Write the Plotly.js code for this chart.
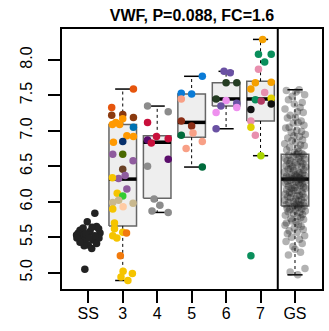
<!DOCTYPE html>
<html>
<head>
<meta charset="utf-8">
<script src="https://cdn.plot.ly/plotly-3.0.1.min.js"></script>
<style>html,body{margin:0;padding:0;background:#fff;}#chart{width:329px;height:331px;}</style>
</head>
<body>
<div id="chart"></div>
<script>
// ---------- data ----------
const categories = ['SS', '3', '4', '5', '6', '7', 'GS'];
const titleText = 'VWF, P=0.088, FC=1.6';
const yTickVals = [5.0, 5.5, 6.0, 6.5, 7.0, 7.5, 8.0];

// box statistics for groups with a box
const boxCats   = ['3', '4', '5', '6', '7', 'GS'];
const boxLow    = [4.89, 5.85, 6.49, 7.03, 6.65, 4.97];
const boxQ1     = [5.66, 6.05, 6.91, 7.35, 7.14, 5.94];
const boxMedian = [6.32, 6.84, 7.12, 7.45, 7.45, 6.32];
const boxQ3     = [7.09, 6.93, 7.52, 7.68, 7.70, 6.67];
const boxHigh   = [7.59, 7.35, 7.77, 7.84, 8.29, 7.58];

// SS points
const ssVals = [5.84,5.72,5.60,5.56,5.63,5.65,5.56,5.58,5.51,5.46,5.46,5.39,5.34,5.53,5.41,5.55,5.49,5.64,5.49,5.38,5.52,5.49,5.43,5.62,5.05];
const ssJit  = [0.19,-0.03,-0.24,-0.29,-0.15,0.24,0.34,0.05,-0.19,-0.10,0.15,0.00,0.10,-0.34,0.24,-0.07,0.31,0.11,-0.33,-0.12,0.19,0.02,-0.24,0.30,-0.10];

// group 3
const g3Vals = [7.59,7.33,7.22,7.23,7.19,7.17,7.12,7.09,7.09,7.05,6.93,6.92,6.84,6.85,6.67,6.67,6.58,6.46,6.37,6.33,6.34,6.18,6.12,6.08,6.02,5.99,5.98,5.93,5.90,5.70,5.62,5.52,5.49,5.57,5.56,5.24,5.02,4.99,4.94,4.89];
const g3Jit  = [0.31,-0.32,-0.32,0.00,0.31,0.00,-0.20,-0.09,-0.30,0.31,0.12,0.31,-0.27,0.00,-0.29,0.00,0.30,0.00,0.07,-0.12,-0.30,0.12,-0.16,0.00,-0.12,-0.29,0.30,0.01,-0.29,-0.24,-0.24,-0.29,-0.17,0.00,0.11,-0.07,0.01,0.28,-0.05,0.15];
const g3Cols = ['#E6550D','#E6550D','#8B3A0F','#8B3A0F','#8B3A0F','#FF9900','#FF9900','#FF9900','#FF9900','#0072B2','#FF9900','#FF9900','#FF9900','#08306B','#8F5C9E','#4A6A00','#8F5C9E','#6B4226','#8F5C9E','#8F5C9E','#F5C400','#8F5C9E','#F5C400','#33CC33','#C9B88E','#C9B88E','#C9B88E','#FFCBA4','#F5C400','#F5C400','#F5C400','#F5C400','#F5C400','#F5C400','#F27A0C','#F27A0C','#F5C400','#F5C400','#F5C400','#F5C400'];

// group 4
const g4Vals = [7.35,7.27,7.12,6.92,6.89,6.87,6.83,6.60,6.50,6.04,5.95,5.87,5.85];
const g4Jit  = [-0.28,0.32,-0.28,-0.02,0.32,-0.28,-0.17,0.32,-0.28,-0.09,0.08,-0.15,0.32];
const g4Cols = ['#8C8C8C','#8C8C8C','#C8103C','#C8103C','#C8103C','#5A0D6B','#C8103C','#5A0D6B','#8C8C8C','#8C8C8C','#8C8C8C','#8C8C8C','#8C8C8C'];

// group 5
const g5Vals = [7.77,7.53,7.52,7.45,7.14,7.07,6.97,6.94,6.85,6.75,6.49];
const g5Jit  = [0.31,-0.30,0.00,-0.30,-0.30,0.00,0.04,-0.30,0.31,-0.16,0.31];
const g5Cols = ['#0A7BD6','#0A7BD6','#0A7BD6','#F8A086','#8B2E16','#8B2E16','#F8A086','#006B3C','#F8A086','#F8A086','#006B3C'];

// group 6
const g6Vals = [7.84,7.82,7.68,7.68,7.45,7.43,7.35,7.39,7.26,7.33,7.03];
const g6Jit  = [-0.06,0.12,0.00,0.31,-0.29,0.00,-0.15,0.31,-0.29,0.31,-0.29];
const g6Cols = ['#6A51A3','#6A51A3','#253D23','#253D23','#253D23','#EE90EE','#6A51A3','#6A51A3','#EE90EE','#EE90EE','#6A51A3'];

// group 7
const g7Vals = [8.29,8.08,8.08,7.97,7.87,7.68,7.685,7.59,7.54,7.44,7.42,7.46,7.30,7.38,7.14,7.05,6.94,6.65,5.24];
const g7Jit  = [0.06,-0.06,0.31,0.12,-0.06,-0.15,0.31,-0.28,0.12,-0.15,0.02,0.31,-0.28,0.31,-0.28,-0.28,-0.15,0.01,-0.28];
const g7Cols = ['#F5A000','#0A8F5C','#0A8F5C','#0A8F5C','#E88FAE','#F5A000','#F5A000','#F5A000','#E88FAE','#0A8F5C','#B23A62','#E0D000','#111111','#111111','#E88FAE','#E0D000','#E88FAE','#A8D400','#0A8F5C'];

// GS points
const gsVals = [
 7.58,7.57,7.55,7.51,7.49,7.44,7.40,7.38,7.33,7.31,7.27,7.26,7.22,7.19,7.18,7.14,7.12,7.11,7.08,7.05,
 7.04,7.01,6.99,6.98,6.95,6.93,6.92,6.90,6.87,6.86,6.84,6.82,6.80,6.79,6.77,6.75,6.73,6.71,6.70,6.68,
 6.67,6.66,6.66,6.64,6.63,6.61,6.61,6.60,6.58,6.58,6.57,6.55,6.54,6.54,6.52,6.51,6.50,6.49,6.49,6.47,
 6.46,6.45,6.44,6.42,6.42,6.41,6.40,6.38,6.38,6.37,6.36,6.36,6.35,6.34,6.34,6.33,6.33,6.32,6.32,6.31,
 6.31,6.30,6.29,6.29,6.28,6.26,6.26,6.25,6.23,6.23,6.22,6.21,6.20,6.19,6.19,6.17,6.16,6.16,6.14,6.13,
 6.12,6.11,6.11,6.09,6.08,6.07,6.06,6.06,6.04,6.03,6.02,6.01,6.00,5.99,5.99,5.97,5.96,5.96,5.95,5.94,
 5.94,5.93,5.92,5.91,5.90,5.89,5.88,5.87,5.86,5.85,5.83,5.82,5.81,5.79,5.78,5.76,5.75,5.73,5.72,5.70,
 5.68,5.67,5.65,5.63,5.61,5.59,5.57,5.55,5.52,5.50,5.47,5.44,5.41,5.37,5.33,5.29,5.25,5.06,5.01,4.97];
const gsJit = [
 0.12,-0.25,0.03,0.28,-0.08,-0.19,0.21,-0.02,0.15,-0.29,0.07,0.24,-0.14,0.01,-0.22,0.18,0.09,-0.05,0.26,-0.17,
 -0.27,0.05,0.19,-0.11,0.30,-0.03,0.13,-0.21,0.22,-0.09,0.02,-0.30,0.16,0.27,-0.15,0.08,-0.24,0.11,-0.01,0.20,
 0.04,-0.18,0.25,-0.06,0.14,-0.28,0.10,0.29,-0.12,-0.23,0.17,0.00,-0.16,0.23,0.06,-0.26,0.19,-0.07,0.31,-0.13,
 -0.20,0.26,-0.04,0.09,-0.31,0.14,0.22,-0.10,0.01,0.28,-0.25,0.05,-0.17,0.12,-0.02,0.24,-0.29,0.16,-0.08,0.07,
 0.18,-0.14,0.29,-0.22,0.03,0.11,-0.27,0.21,-0.06,0.15,-0.19,0.25,0.00,-0.11,0.30,-0.24,0.08,-0.03,0.20,-0.16,
 -0.09,0.23,-0.28,0.13,0.06,-0.21,0.27,-0.13,0.02,0.19,-0.30,0.10,-0.05,0.26,-0.18,0.04,0.16,-0.26,0.12,-0.01,
 0.27,-0.07,0.09,-0.23,0.20,-0.15,0.01,0.30,-0.20,0.14,-0.04,0.22,-0.28,0.07,0.17,-0.12,0.25,-0.09,0.03,-0.25,
 0.10,-0.29,0.18,-0.02,0.24,-0.17,0.06,-0.22,0.28,-0.10,0.13,-0.26,0.21,-0.06,0.00,0.16,-0.19,0.29,-0.14,0.08];

// ---------- build traces ----------
const pos = c => categories.indexOf(c) + 1;
const BOX_HALF = 0.4, CAP_HALF = 0.22;
const traces = [];

boxCats.forEach((c, i) => {
  const p = pos(c);
  traces.push({
    type: 'scatter', mode: 'lines', hoverinfo: 'skip',
    x: [p - BOX_HALF, p + BOX_HALF, p + BOX_HALF, p - BOX_HALF, p - BOX_HALF],
    y: [boxQ1[i], boxQ1[i], boxQ3[i], boxQ3[i], boxQ1[i]],
    fill: 'toself', fillcolor: '#EEEEEE',
    line: {color: '#666666', width: 1.5}
  });
});
const wx = [], wy = [];
boxCats.forEach((c, i) => {
  const p = pos(c);
  wx.push(p, p, null, p, p, null);
  wy.push(boxQ3[i], boxHigh[i], null, boxQ1[i], boxLow[i], null);
});
traces.push({type: 'scatter', mode: 'lines', x: wx, y: wy, hoverinfo: 'skip',
  line: {color: '#000', width: 1, dash: '3px,3px'}});
const cx = [], cy = [];
boxCats.forEach((c, i) => {
  const p = pos(c);
  cx.push(p - CAP_HALF, p + CAP_HALF, null, p - CAP_HALF, p + CAP_HALF, null);
  cy.push(boxHigh[i], boxHigh[i], null, boxLow[i], boxLow[i], null);
});
traces.push({type: 'scatter', mode: 'lines', x: cx, y: cy, hoverinfo: 'skip',
  line: {color: '#000', width: 1.5}});
const mx = [], my = [];
boxCats.forEach((c, i) => {
  const p = pos(c);
  mx.push(p - BOX_HALF, p + BOX_HALF, null);
  my.push(boxMedian[i], boxMedian[i], null);
});
traces.push({type: 'scatter', mode: 'lines', x: mx, y: my, hoverinfo: 'skip',
  line: {color: '#000', width: 3.5}});

function pts(cat, vals, jit, colors) {
  const p = pos(cat);
  traces.push({
    type: 'scatter', mode: 'markers', hoverinfo: 'skip',
    x: jit.map(j => p + j), y: vals,
    marker: {size: 7.5, color: colors, line: {width: 0}}
  });
}
pts('SS', ssVals, ssJit, '#222222');
pts('3', g3Vals, g3Jit, g3Cols);
pts('4', g4Vals, g4Jit, g4Cols);
pts('5', g5Vals, g5Jit, g5Cols);
pts('6', g6Vals, g6Jit, g6Cols);
pts('7', g7Vals, g7Jit, g7Cols);
pts('GS', gsVals, gsJit, 'rgba(30,30,30,0.34)');

const axisCommon = {
  showgrid: false, zeroline: false, showline: true, mirror: true,
  linecolor: '#000', linewidth: 2,
  ticks: 'outside', ticklen: 12, tickwidth: 2, tickcolor: '#000',
  tickfont: {size: 16, color: '#000'}
};

const layout = {
  width: 329, height: 331,
  margin: {l: 62, r: 7, t: 29, b: 42, pad: 0},
  paper_bgcolor: '#fff', plot_bgcolor: '#fff',
  font: {family: 'Liberation Sans, Arial, sans-serif', color: '#000'},
  showlegend: false,
  title: {text: '<b>' + titleText + '</b>', font: {size: 16, color: '#000'},
    x: 0.5, xref: 'paper', xanchor: 'center', y: 0.952, yref: 'container', yanchor: 'middle'},
  xaxis: Object.assign({}, axisCommon, {
    range: [0.237, 7.784], tickmode: 'array',
    tickvals: categories.map((c, i) => i + 1), ticktext: categories,
    ticklabelstandoff: -3
  }),
  yaxis: Object.assign({}, axisCommon, {
    range: [4.770, 8.437], tickmode: 'array',
    tickvals: yTickVals, ticktext: yTickVals.map(v => v.toFixed(1)),
    tickangle: -90, ticklabelstandoff: 10
  }),
  shapes: [{type: 'line', xref: 'x', yref: 'paper', x0: 6.5, x1: 6.5, y0: 0, y1: 1,
    line: {color: '#000', width: 2}}]
};

Plotly.newPlot('chart', traces, layout, {staticPlot: true, displayModeBar: false});
</script>
</body>
</html>
